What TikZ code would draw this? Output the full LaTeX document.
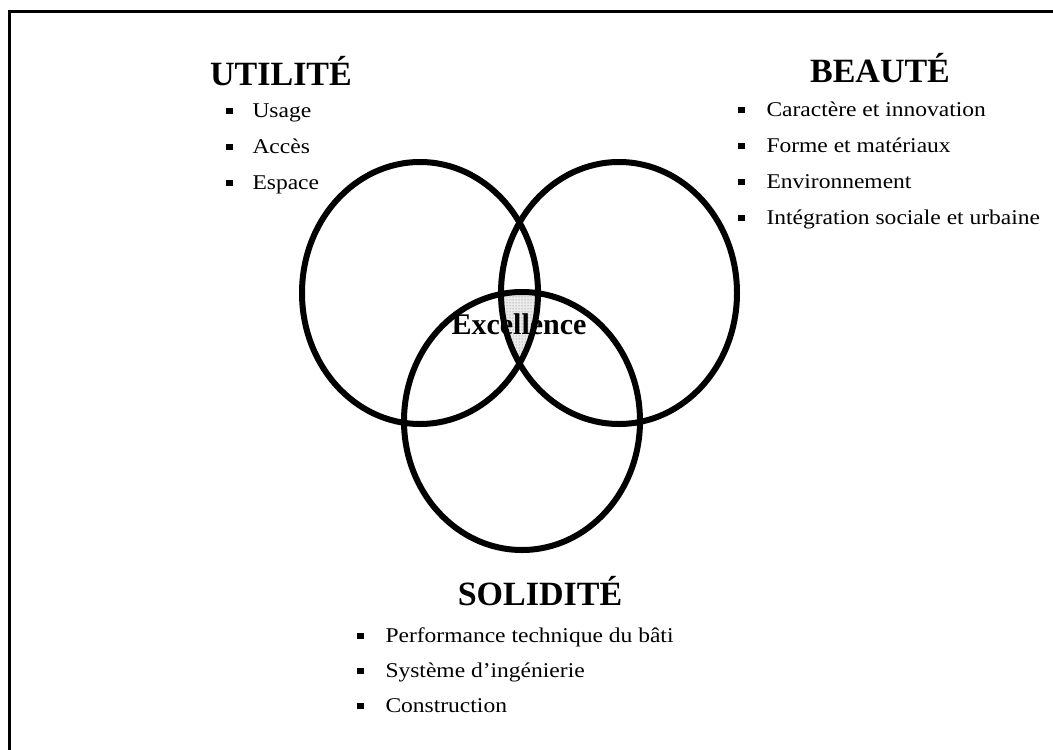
\documentclass[tikz,border=0pt]{standalone}
\usepackage{fontspec}
\setmainfont{Liberation Serif}
\newfontfamily\itemfont[FakeStretch=1.12]{Liberation Serif}
\usetikzlibrary{positioning,patterns}
\newcommand{\sqbullet}{\rule[0.15em]{0.3em}{0.3em}}
\tikzset{
  frameline/.style={line width=3pt, black},
  ring/.style={line width=6pt, black},
  heading/.style={font=\fontsize{34}{38}\selectfont\bfseries, inner sep=0pt, anchor=base},
  item/.style={font=\itemfont\fontsize{21}{24}\selectfont, anchor=base west, inner sep=0pt},
  hub/.style={font=\fontsize{30}{34}\selectfont\bfseries, inner sep=0pt, anchor=base},
  overlap/.style={pattern=dots, pattern color=black!55}
}
\begin{document}
\begin{tikzpicture}[x=1pt, y=-1pt]
  \useasboundingbox (0,0) rectangle (1053,750);
  \draw[frameline] (9.5,750) -- (9.5,11.5) -- (1053,11.5);

  % centres of the three rings
  \coordinate (uc) at (420,293);
  \coordinate (bc) at (619,293);
  \coordinate (sc) at (522,421);

  % common part of the three rings
  \begin{scope}
    \clip (uc) ellipse [x radius=118pt, y radius=131pt];
    \clip (bc) ellipse [x radius=118pt, y radius=131pt];
    \fill[black!8] (sc) ellipse [x radius=118pt, y radius=129pt];
    \fill[overlap] (sc) ellipse [x radius=118pt, y radius=129pt];
  \end{scope}

  \draw[ring] (uc) ellipse [x radius=118pt, y radius=131pt];
  \draw[ring] (bc) ellipse [x radius=118pt, y radius=131pt];
  \draw[ring] (sc) ellipse [x radius=118pt, y radius=129pt];

  \node[hub] (excel) at (519,334) {Excellence};

  % UTILITE
  \node[heading] (util) at (281,85) {UTILITÉ};
  \node[item] (u1) at (226,117) {\sqbullet\hspace{20pt}Usage};
  \node[item, below=36pt of u1.base west, anchor=base west] (u2) {\sqbullet\hspace{20pt}Accès};
  \node[item, below=36pt of u2.base west, anchor=base west] (u3) {\sqbullet\hspace{20pt}Espace};

  % BEAUTE
  \node[heading] (beau) at (880,82) {BEAUTÉ};
  \node[item] (b1) at (738,116) {\sqbullet\hspace{22pt}Caractère et innovation};
  \node[item, below=36pt of b1.base west, anchor=base west] (b2) {\sqbullet\hspace{22pt}Forme et matériaux};
  \node[item, below=36pt of b2.base west, anchor=base west] (b3) {\sqbullet\hspace{22pt}Environnement};
  \node[item, below=36pt of b3.base west, anchor=base west] (b4) {\sqbullet\hspace{22pt}Intégration sociale et urbaine};

  % SOLIDITE
  \node[heading] (soli) at (540,605) {SOLIDITÉ};
  \node[item] (s1) at (357,642) {\sqbullet\hspace{22pt}Performance technique du bâti};
  \node[item, below=35pt of s1.base west, anchor=base west] (s2) {\sqbullet\hspace{22pt}Système d’ingénierie};
  \node[item, below=35pt of s2.base west, anchor=base west] (s3) {\sqbullet\hspace{22pt}Construction};
\end{tikzpicture}
\end{document}
